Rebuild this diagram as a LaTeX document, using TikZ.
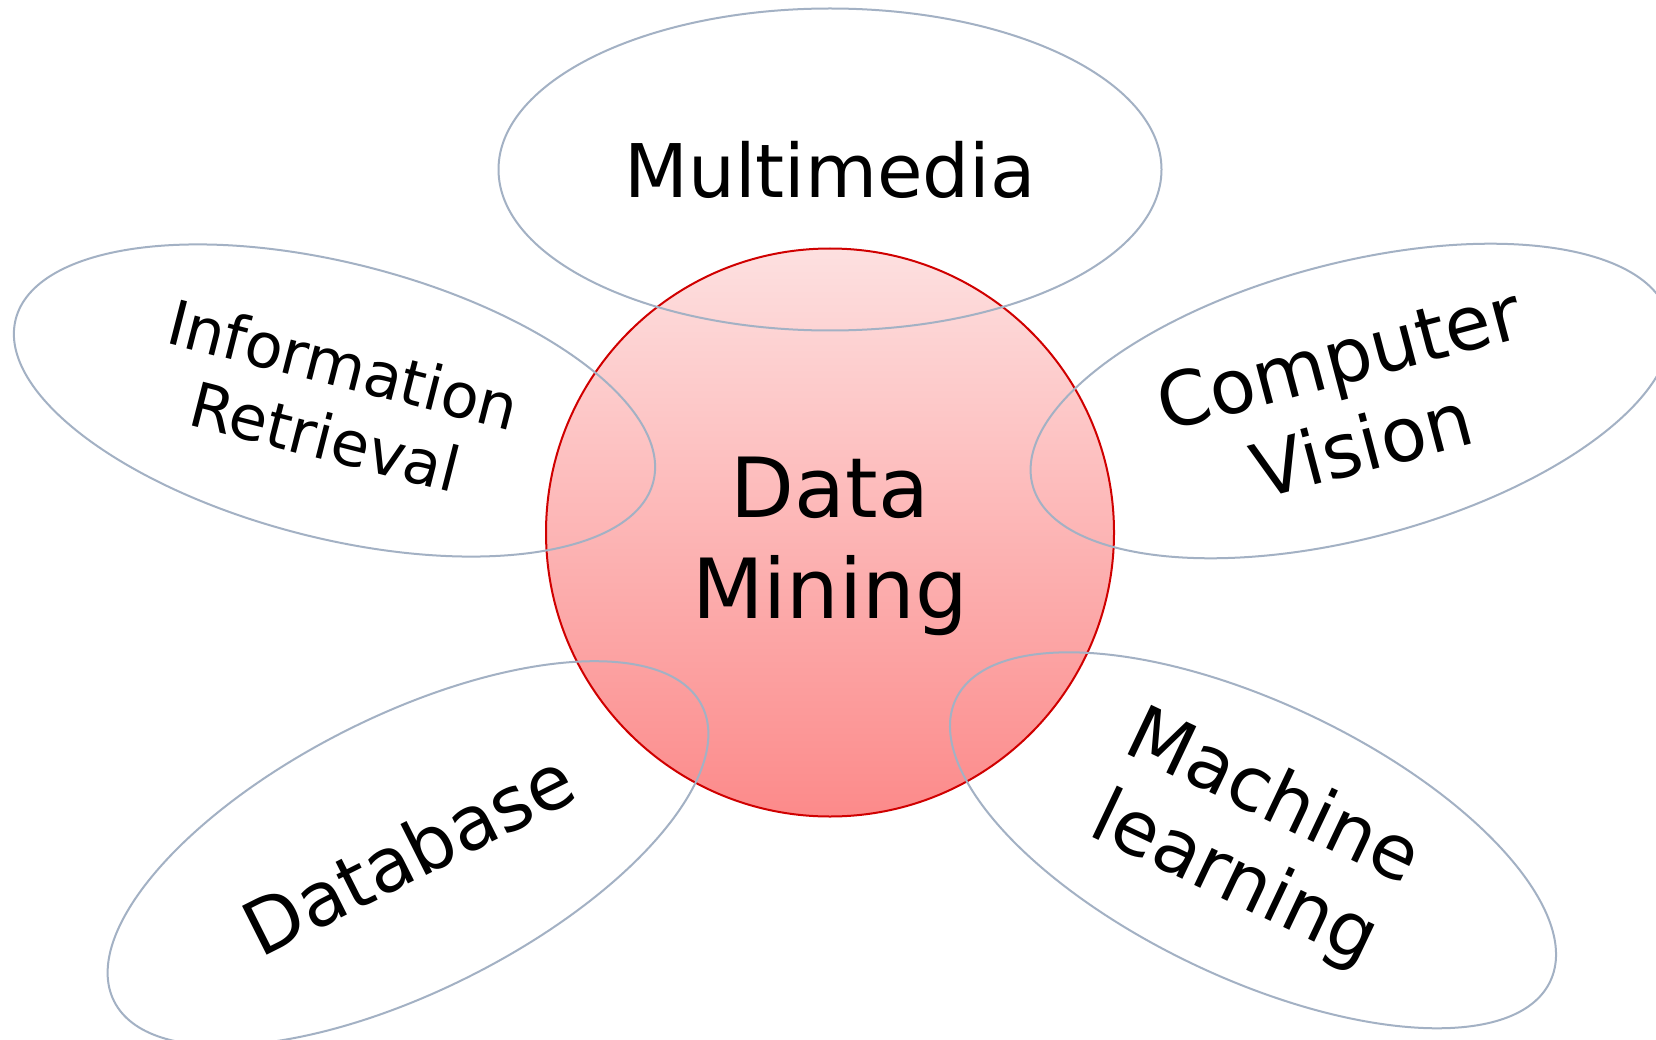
\documentclass[tikz,border=0pt]{standalone}
\usepackage{fontspec}
\setmainfont{DejaVu Sans}
\usetikzlibrary{shapes.geometric}

\definecolor{petalline}{RGB}{163,177,196}
\definecolor{hubline}{RGB}{208,0,0}
\definecolor{hubtop}{RGB}{253,224,224}
\definecolor{hubbottom}{RGB}{252,138,138}

\tikzset{
  petal/.style={ellipse, draw=petalline, line width=2pt, inner sep=0pt,
    minimum width=658pt, minimum height=275pt, align=center, text=black},
  hub/.style={circle, draw=hubline, line width=2pt, top color=hubtop,
    bottom color=hubbottom, minimum size=568pt, inner sep=0pt},
}

\begin{document}
\begin{tikzpicture}[x=1pt,y=-1pt]
  % canvas
  \fill[white] (0,0) rectangle (1656,1040);
  \useasboundingbox (0,0) rectangle (1656,1040);
  \clip (0,0) rectangle (1656,1040);

  % central disc
  \node[hub] (dm) at (830,532.5) {};

  % surrounding fields
  \node[petal, minimum width=663pt, minimum height=322pt,
        font=\fontsize{74}{89}\selectfont] (mm) at (830,169.5) {Multimedia};
  \node[petal, rotate=-14.3, font=\fontsize{62}{74.5}\selectfont]
        (ir) at (334.5,400.5) {Information\\Retrieval};
  \node[petal, rotate=14.8, font=\fontsize{75}{90}\selectfont]
        (cv) at (1350.6,401) {Computer\\Vision};
  \node[petal, rotate=26.7, font=\fontsize{75}{90}\selectfont]
        (db) at (408,853.4) {Database};
  \node[petal, rotate=-25.4, font=\fontsize{75}{90}\selectfont]
        (ml) at (1253,840.3) {Machine\\learning};

  % central label
  \node[align=center, inner sep=0pt, font=\fontsize{83}{101}\selectfont]
        (dmtext) at (830,546) {Data\\Mining};
\end{tikzpicture}
\end{document}
